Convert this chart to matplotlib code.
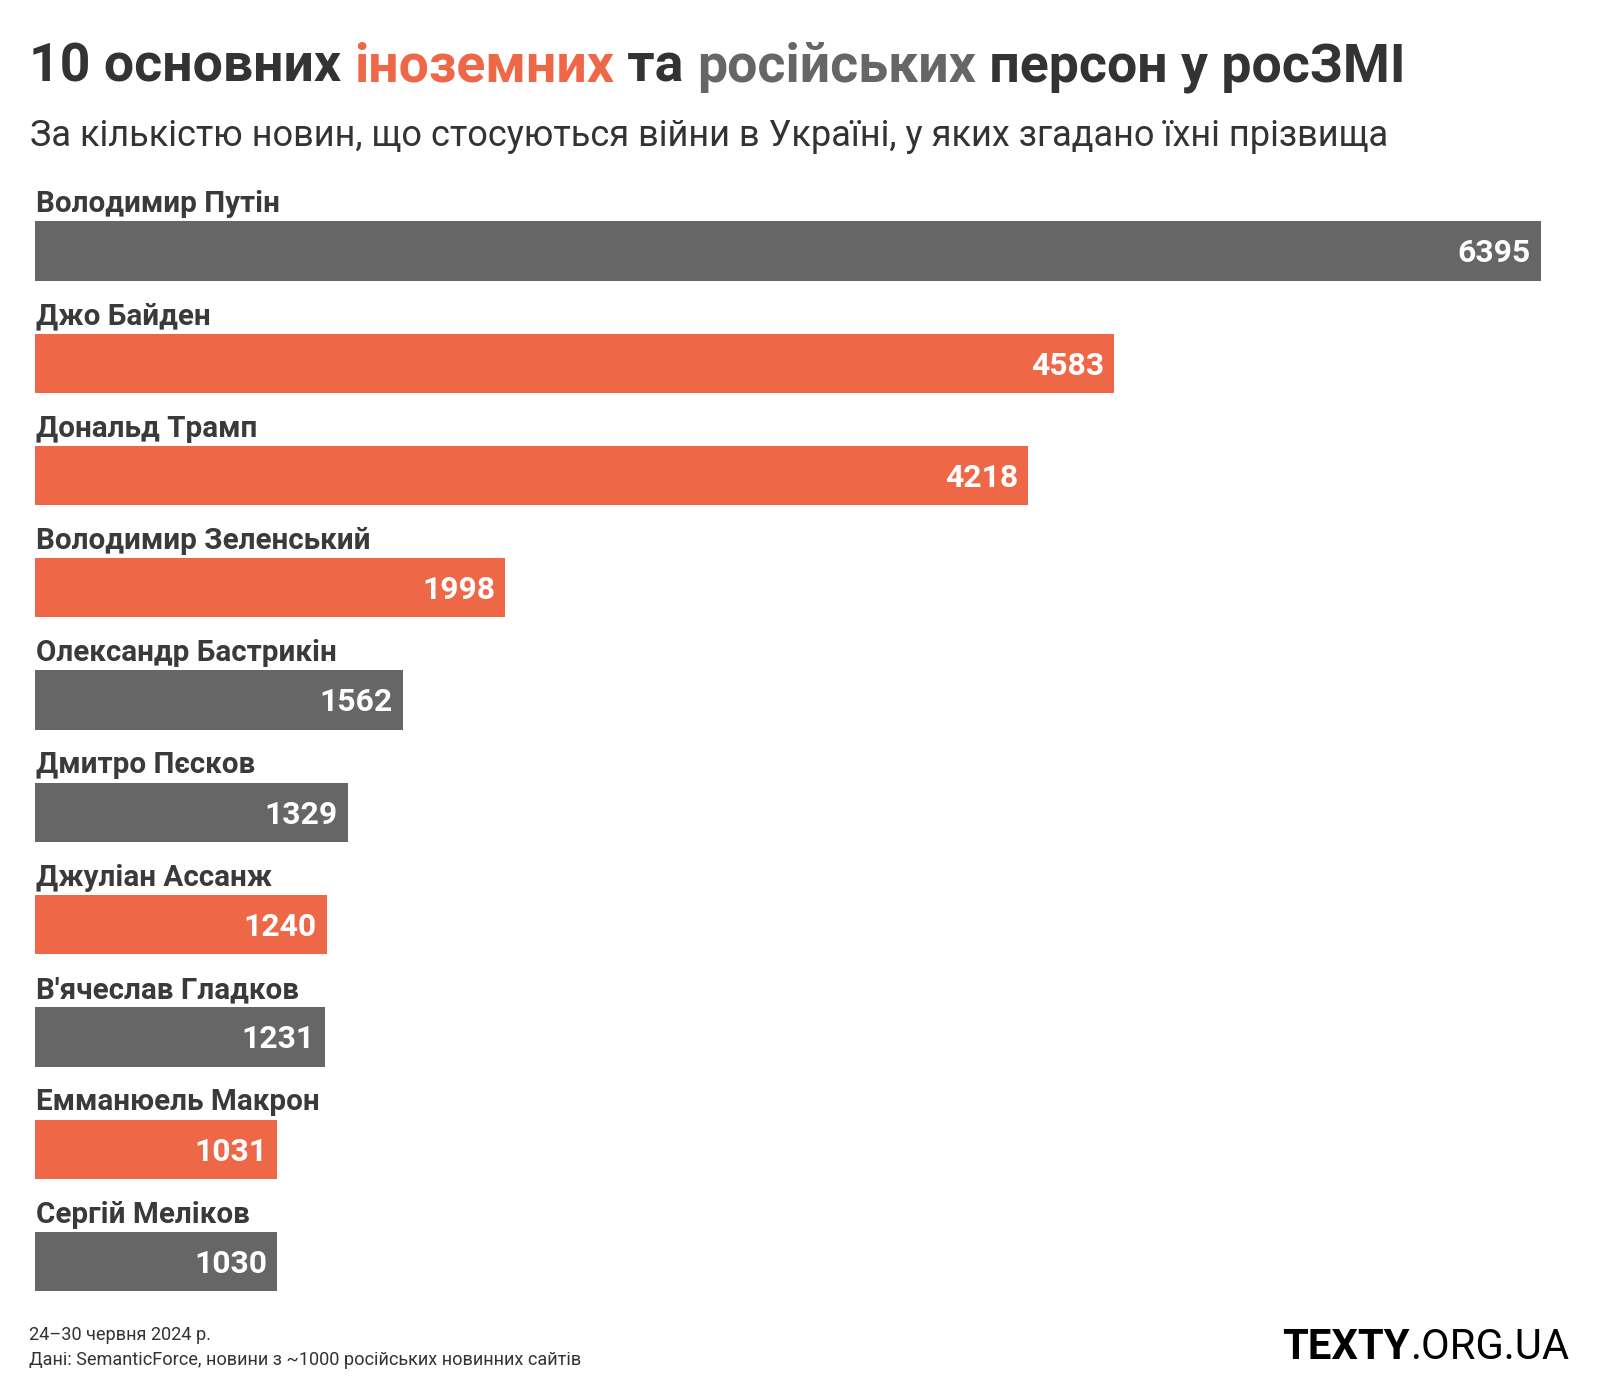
import matplotlib
matplotlib.use("Agg")
import matplotlib.pyplot as plt

plt.rcParams['font.family'] = ['Roboto', 'DejaVu Sans']

# ---- data ----
names = ["Володимир Путін", "Джо Байден", "Дональд Трамп", "Володимир Зеленський",
         "Олександр Бастрикін", "Дмитро Пєсков", "Джуліан Ассанж", "В'ячеслав Гладков",
         "Емманюель Макрон", "Сергій Меліков"]
values = [6395, 4583, 4218, 1998, 1562, 1329, 1240, 1231, 1031, 1030]
groups = ["ru", "foreign", "foreign", "foreign", "ru", "ru", "foreign", "ru", "foreign", "ru"]

title_parts = [("10 основних ", "dark"), ("іноземних", "foreign"), (" та ", "dark"),
               ("російських", "ru"), (" персон у росЗМІ", "dark")]
subtitle = "За кількістю новин, що стосуються війни в Україні, у яких згадано їхні прізвища"
footer1 = "24–30 червня 2024 р."
footer2 = "Дані: SemanticForce, новини з ~1000 російських новинних сайтів"
logo_bold, logo_light = "TEXTY", ".ORG.UA"

# ---- style ----
W, H = 1600, 1400
COL = {"foreign": "#EE6747", "ru": "#666666", "dark": "#333333"}

fig = plt.figure(figsize=(W / 100, H / 100), dpi=100)
fig.patch.set_facecolor("white")
renderer = fig.canvas.get_renderer()


def fx(px):
    return px / W


def fy(py):
    return 1 - py / H


def width_of(t):
    return t.get_window_extent(renderer).width


def fit(t, target):
    t.set_fontsize(t.get_fontsize() * target / width_of(t))
    return t

# ---- bars ----
n = len(values)
pitch = 112.28
top_center = 251.0
ax_top = top_center - pitch / 2
ax_bot = ax_top + pitch * n
left, right = 34.7, 1540.7
ax = fig.add_axes([fx(left), fy(ax_bot), (right - left) / W, (ax_bot - ax_top) / H])
ax.barh(range(n), values, height=59.3 / pitch, color=[COL[g] for g in groups])
ax.set_xlim(0, max(values))
ax.set_ylim(n - 0.5, -0.5)
ax.axis("off")

# name label size fitted
probe = fig.text(0, 0, names[0], fontsize=20, fontweight="bold")
fit(probe, 243)
fs_name = probe.get_fontsize()
probe.remove()
probe = fig.text(0, 0, str(values[0]), fontsize=20, fontweight="bold")
fit(probe, 73)
fs_val = probe.get_fontsize()
probe.remove()

for i, (nm, v) in enumerate(zip(names, values)):
    ax.annotate(nm, (0, i), xytext=(1.5, 39), textcoords="offset pixels",
                ha="left", va="baseline", fontsize=fs_name, fontweight="bold",
                color="#3a3a3a")
    digit_h = 0.711 * fs_val / 72 * 100
    ax.annotate(str(v), (v, i), xytext=(-10, -digit_h / 2), textcoords="offset pixels",
                ha="right", va="baseline", fontsize=fs_val, fontweight="bold",
                color="white")

# ---- title (multi-colour) ----
def place_parts(parts, x0, ybase, size, weight):
    objs = []
    x = x0
    for txt, c in parts:
        t = fig.text(fx(x), fy(ybase), txt, fontsize=size, fontweight=weight,
                     color=COL[c], ha="left", va="baseline")
        objs.append(t)
        x += width_of(t)
    return objs, x - x0

objs, total = place_parts(title_parts, 29, 82, 40, "bold")
for o in objs:
    o.remove()
size = 40 * 1376 / total
place_parts(title_parts, 29, 82, size, "bold")

st = fig.text(fx(30), fy(146), subtitle, fontsize=24, color="#333333",
              ha="left", va="baseline")
fit(st, 1360)

# ---- footer ----
f2 = fig.text(fx(28.6), fy(1365), footer2, fontsize=12, color="#333333",
              ha="left", va="baseline")
fit(f2, 551)
fig.text(fx(28.6), fy(1340), footer1, fontsize=f2.get_fontsize(), color="#333333",
         ha="left", va="baseline")

# ---- logo ----
lb = fig.text(0, fy(1359), logo_bold, fontsize=30, fontweight="bold", color="black",
              ha="left", va="baseline")
ll = fig.text(0, fy(1359), logo_light, fontsize=30, fontweight="normal", color="black",
              ha="left", va="baseline")
tot = width_of(lb) + width_of(ll)
s = 30 * 286 / tot
lb.set_fontsize(s)
ll.set_fontsize(s)
wb, wl = width_of(lb), width_of(ll)
x0 = 1569 - wb - wl
lb.set_x(fx(x0))
ll.set_x(fx(x0 + wb))

fig.savefig("out.png", dpi=100, facecolor="white")
